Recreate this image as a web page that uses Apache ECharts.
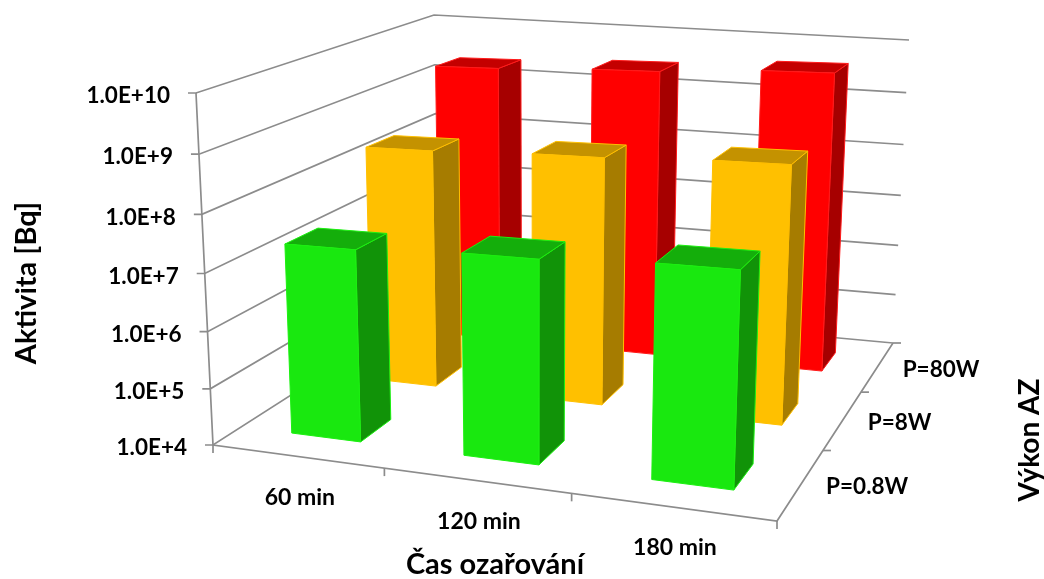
<!DOCTYPE html>
<html>
<head>
<meta charset="utf-8">
<style>
html, body { margin: 0; padding: 0; background: #fff; }
#chart { width: 1044px; height: 579px; }
</style>
<script src="https://cdn.jsdelivr.net/npm/echarts@6/dist/echarts.min.js"></script>
</head>
<body>
<div id="chart"></div>
<script>
var timeLabels = ["60 min", "120 min", "180 min"];
var powerLabels = ["P=0.8W", "P=8W", "P=80W"];
var tickValues = [1e4, 1e5, 1e6, 1e7, 1e8, 1e9, 1e10];
var tickLabels = ["1.0E+4", "1.0E+5", "1.0E+6", "1.0E+7", "1.0E+8", "1.0E+9", "1.0E+10"];
var activity08W = [2.2e7, 2.7e7, 3.3e7];
var activity8W = [2.5e8, 2.8e8, 3.2e8];
var activity80W = [2.6e9, 2.9e9, 3.5e9];

var FONT = '"Lato", "Carlito", sans-serif';
var LINE = "#8c8c8c";
var GRID_H = 500;

// box corners on screen, floor: front left, front right, back right, back left
var floor = [[213, 445], [777, 521], [893, 343], [438, 301]];
var roof = [[196, 93], null, [909, 40], [434, 15]];
var vanish = [535, 7118]; // where the verticals meet
var lift = -0.0501;

var dx1 = floor[1][0] - floor[2][0], dx2 = floor[3][0] - floor[2][0];
var dy1 = floor[1][1] - floor[2][1], dy2 = floor[3][1] - floor[2][1];
var sx = floor[0][0] - floor[1][0] + floor[2][0] - floor[3][0];
var sy = floor[0][1] - floor[1][1] + floor[2][1] - floor[3][1];
var den = dx1 * dy2 - dx2 * dy1;
var hg = (sx * dy2 - dx2 * sy) / den;
var hh = (dx1 * sy - sx * dy1) / den;

// u, v run 0..3 along time and power, w runs 0..1 up the value axis
function project(u, v, w) {
  var s = u / 3, t = v / 3;
  var z = hg * s + hh * t + 1 + w * lift;
  var x = (floor[1][0] - floor[0][0] + hg * floor[1][0]) * s + (floor[3][0] - floor[0][0] + hh * floor[3][0]) * t + floor[0][0] + w * lift * vanish[0];
  var y = (floor[1][1] - floor[0][1] + hg * floor[1][1]) * s + (floor[3][1] - floor[0][1] + hh * floor[3][1]) * t + floor[0][1] + w * lift * vanish[1];
  return [x / z, y / z];
}

// point on a vertical wall edge, the walls are pinned to their corners
function wallPoint(corner, w) {
  var f = w * 0.95 / (1 - 0.05 * w);
  var a = floor[corner], b = roof[corner];
  return [a[0] + (b[0] - a[0]) * f, a[1] + (b[1] - a[1]) * f];
}

function valueToW(api, value) {
  return (GRID_H - api.coord([0, value])[1]) / GRID_H;
}

function line(points, width) {
  return {
    type: "polyline",
    shape: { points: points },
    style: { stroke: LINE, lineWidth: width || 1.7, fill: null }
  };
}

function label(text, x, y, align, size) {
  return {
    type: "text",
    style: {
      text: text, x: x, y: y, align: align, verticalAlign: "middle",
      font: "bold " + size + "px " + FONT, fill: "#000"
    }
  };
}

function barSeries(name, data, depth, colors) {
  return {
    name: name,
    type: "custom",
    coordinateSystem: "cartesian2d",
    silent: true,
    animation: false,
    data: data.map(function (v, i) { return [i, v]; }),
    renderItem: function (params, api) {
      var u = api.coord([api.value(0), api.value(1)])[0] / 300 * 3 + 0.012;
      var w = valueToW(api, api.value(1));
      var du = 0.205, dv = 0.19;
      var v = depth + 0.5;
      var fbl = project(u - du, v - dv, 0), fbr = project(u + du, v - dv, 0), bbr = project(u + du, v + dv, 0);
      var ftl = project(u - du, v - dv, w), ftr = project(u + du, v - dv, w);
      var btr = project(u + du, v + dv, w), btl = project(u - du, v + dv, w);
      function face(points, fill) {
        return { type: "polygon", shape: { points: points }, style: { fill: fill, stroke: colors[3], lineWidth: 1 } };
      }
      return {
        type: "group",
        children: [
          face([fbr, bbr, btr, ftr], colors[1]),
          face([ftl, ftr, btr, btl], colors[2]),
          face([fbl, fbr, ftr, ftl], colors[0])
        ]
      };
    }
  };
}

var option = {
  animation: false,
  grid: { left: 0, top: 0, width: 300, height: GRID_H },
  xAxis: { type: "category", data: timeLabels, show: false },
  yAxis: { type: "log", min: 1e4, max: 1e10, show: false },
  graphic: [
    { type: "text", x: 27, y: 283, rotation: Math.PI / 2, style: { text: "Aktivita [Bq]", font: "bold 29px " + FONT, fill: "#000", align: "center", verticalAlign: "middle" } },
    { type: "text", x: 495, y: 565, style: { text: "Čas ozařování", font: "bold 29px " + FONT, fill: "#000", align: "center", verticalAlign: "middle" } },
    { type: "text", x: 1030, y: 440, rotation: Math.PI / 2, style: { text: "Výkon AZ", font: "bold 28px " + FONT, fill: "#000", align: "center", verticalAlign: "middle" } }
  ],
  series: [
    {
      // walls: one gridline per value tick
      type: "custom",
      coordinateSystem: "cartesian2d",
      silent: true,
      animation: false,
      data: tickValues.map(function (v, i) { return [0, v, i]; }),
      renderItem: function (params, api) {
        var w = valueToW(api, api.value(1));
        var a = wallPoint(0, w);
        return {
          type: "group",
          children: [
            line([[a[0] - 8, a[1]], a, wallPoint(3, w), wallPoint(2, w)]),
            label(tickLabels[api.value(2)], a[0] - 26, a[1] + 3, "right", 22.5)
          ]
        };
      }
    },
    {
      // axis lines of the box
      type: "custom",
      coordinateSystem: "cartesian2d",
      silent: true,
      animation: false,
      data: [[0, 1e4]],
      renderItem: function () {
        var kids = [
          line([roof[0], floor[0], floor[1], floor[2]]),
        ];
        [0, 1, 2, 3].forEach(function (i) {
          var p = project(i, 0, 0);
          kids.push(line([p, [p[0], p[1] + 8]]));
        });
        [1, 2, 3].forEach(function (i) {
          var p = project(3, i, 0);
          kids.push(line([p, [p[0] + 8, p[1]]]));
        });
        return { type: "group", children: kids };
      }
    },
    {
      // category labels under both floor edges
      type: "custom",
      coordinateSystem: "cartesian2d",
      silent: true,
      animation: false,
      data: [[0, 1e4], [1, 1e4], [2, 1e4]],
      renderItem: function (params, api) {
        var i = api.value(0);
        var a = project(i + 0.5, 0, 0), b = project(3, i + 0.5, 0);
        return {
          type: "group",
          children: [
            label(timeLabels[i], a[0] + 3, a[1] + 41, "center", 23),
            label(powerLabels[i], b[0] + 25, b[1] + 3, "left", 22.5)
          ]
        };
      }
    },
    barSeries("P=80W", activity80W, 2, ["#ff0000", "#a60000", "#c40000", "#ff1a1a"]),
    barSeries("P=8W", activity8W, 1, ["#ffc000", "#a67c00", "#c49200", "#ffc000"]),
    barSeries("P=0.8W", activity08W, 0, ["#19e80f", "#119308", "#14ae0b", "#1bf010"])
  ]
};

var myChart = echarts.init(document.getElementById("chart"));
myChart.setOption(option);
</script>
</body>
</html>
